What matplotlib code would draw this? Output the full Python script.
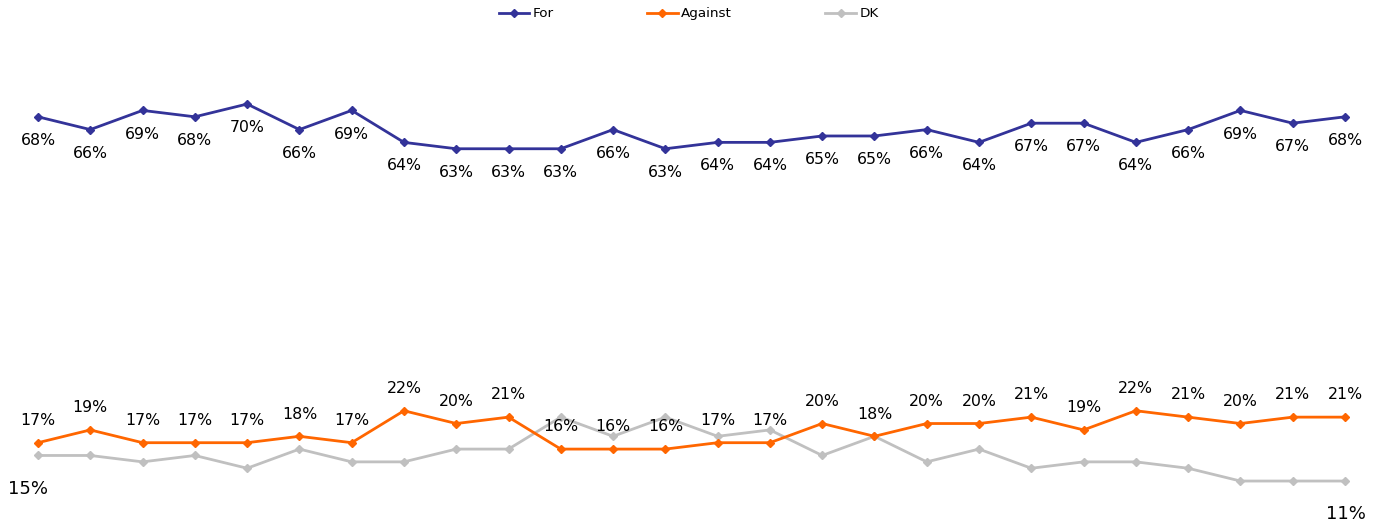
import matplotlib.pyplot as plt
import numpy as np

plt.rcParams['font.family'] = ['DejaVu Sans']

# 26 survey waves
n = 26
for_vals = [68, 66, 69, 68, 70, 66, 69, 64, 63, 63, 63, 66, 63, 64, 64, 65, 65, 66, 64, 67, 67, 64, 66, 69, 67, 68]
against_vals = [17, 19, 17, 17, 17, 18, 17, 22, 20, 21, 16, 16, 16, 17, 17, 20, 18, 20, 20, 21, 19, 22, 21, 20, 21, 21]
dk_vals = [15, 15, 14, 15, 13, 16, 14, 14, 16, 16, 21, 18, 21, 18, 19, 15, 18, 14, 16, 13, 14, 14, 13, 11, 11, 11]

c_for = '#333399'
c_against = '#ff6600'
c_dk = '#c0c0c0'

fig = plt.figure(figsize=(13.8, 5.25), dpi=100)
ax = fig.add_axes([0, 0, 1, 1])
x = np.arange(n)

ax.plot(x, dk_vals, color=c_dk, lw=2, marker='D', ms=4.5, label='DK', zorder=2)
ax.plot(x, against_vals, color=c_against, lw=2, marker='D', ms=4.5, label='Against', zorder=3)
ax.plot(x, for_vals, color=c_for, lw=2, marker='D', ms=4.5, label='For', zorder=3)

for i in range(n):
    ax.annotate('%d%%' % for_vals[i], (x[i], for_vals[i]), xytext=(0, -17),
                textcoords='offset points', ha='center', va='center', fontsize=11.3)
    ax.annotate('%d%%' % against_vals[i], (x[i], against_vals[i]), xytext=(0, 16),
                textcoords='offset points', ha='center', va='center', fontsize=11.3)

ax.annotate('%d%%' % dk_vals[0], (x[0], dk_vals[0]), xytext=(-7, -24),
            textcoords='offset points', ha='center', va='center', fontsize=13)
ax.annotate('%d%%' % dk_vals[-1], (x[-1], dk_vals[-1]), xytext=(1, -24),
            textcoords='offset points', ha='center', va='center', fontsize=13)

ax.set_xlim(-0.727, 25.67)
ax.set_ylim(4.12, 86.28)
ax.axis('off')

h, l = ax.get_legend_handles_labels()
order = [2, 1, 0]
ax.legend([h[i] for i in order], [l[i] for i in order], loc='upper center',
          bbox_to_anchor=(0.499, 1.0), ncol=3, frameon=False, fontsize=9.7,
          handlelength=2.3, handletextpad=0.25, columnspacing=6.9,
          borderaxespad=0.15, markerscale=0.9)

fig.savefig('out.png', dpi=100)
